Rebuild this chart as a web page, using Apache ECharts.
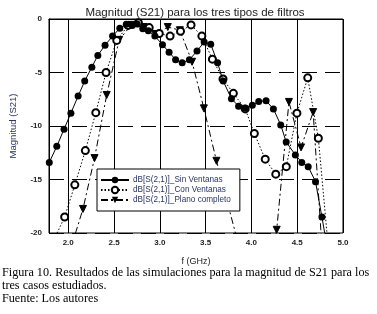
<!DOCTYPE html>
<html><head><meta charset="utf-8">
<script src="https://cdn.jsdelivr.net/npm/echarts@6/dist/echarts.min.js"></script>
<style>html,body{margin:0;padding:0;background:#fff}#c{width:377px;height:314px}</style>
</head><body><div id="c"></div>
<script>
const title = 'Magnitud (S21) para los tres tipos de filtros';
const xName = 'f (GHz)';
const yName = 'Magnitud (S21)';
const xTicks = [2.0, 2.5, 3.0, 3.5, 4.0, 4.5, 5.0];
const names = ['dB[S(2,1)]_Sin Ventanas', 'dB[S(2,1)]_Con Ventanas', 'dB[S(2,1)]_Plano completo'];
const caption = ['Figura 10. Resultados de las simulaciones para la magnitud de S21 para los', 'tres casos estudiados.', 'Fuente: Los autores'];

const sinF = [1.793,1.875,1.954,2.029,2.108,2.18,2.258,2.323,2.402,2.484,2.563,2.634,2.699,2.753,2.814,2.875,2.946,3.029,3.101,3.172,3.244,3.323,3.406,3.484,3.556,3.631,3.692,3.782,3.86,3.93,4.01,4.08,4.16,4.24,4.32,4.38,4.48,4.55,4.62,4.70,4.77,4.85];
const sinV = [-13.4,-11.9,-10.3,-8.8,-7.2,-5.8,-4.5,-3.4,-2.45,-1.6,-0.87,-0.5,-0.6,-0.47,-0.9,-1.1,-1.6,-2.4,-3.1,-3.8,-4.1,-3.8,-3.0,-2.15,-2.35,-4.1,-5.8,-7.45,-8.15,-8.35,-8.05,-7.7,-7.65,-8.4,-9.9,-11.5,-12.7,-13.4,-13.8,-15.2,-18.5,-22.5];

const conF = [1.846,1.961,2.072,2.187,2.301,2.413,2.53,2.653,2.766,2.884,2.994,3.112,3.226,3.341,3.459,3.574,3.69,3.803,3.932,4.032,4.151,4.266,4.381,4.497,4.615,4.731,4.846];
const conV = [-20.6,-18.5,-15.5,-12.3,-8.75,-5.0,-2.0,-0.6,-0.35,-0.8,-1.35,-1.6,-1.15,-0.55,-1.6,-3.75,-5.6,-6.95,-8.4,-10.7,-13.1,-14.5,-13.8,-8.8,-5.5,-11.15,-22];

const planoF = [2.029,2.161,2.287,2.42,2.556,2.69,2.823,2.954,3.087,3.219,3.352,3.481,3.618,3.881,4.145,4.276,4.41,4.542,4.674,4.806];
const planoV = [-21.4,-17.75,-13.0,-7.1,-1.95,-0.55,-0.75,-1.4,-0.75,-1.05,-4.0,-8.35,-13.25,-21.8,-26,-19.7,-7.75,-12.0,-8.7,-26];

const zip = (a, b) => a.map((x, i) => [x, b[i]]);
const chart = echarts.init(document.getElementById('c'), null, {renderer: 'canvas'});
const txt = '#2a3560';
chart.setOption({
  animation: false,
  backgroundColor: '#fff',
  title: {text: title, left: 190, textAlign: 'center', top: 2,
    textStyle: {fontFamily: 'Liberation Sans, Arial', fontSize: 11.5, fontWeight: 'normal', color: '#222'}},
  grid: {left: 45, right: 34, top: 19, bottom: 81, show: true, borderColor: '#000', borderWidth: 1, backgroundColor: '#fff'},
  legend: {
    orient: 'vertical', left: 97, top: 169,
    backgroundColor: '#fff', borderColor: '#000', borderWidth: 1,
    padding: [6, 9, 6, 3], itemGap: 0, itemWidth: 28, itemHeight: 8,
    textStyle: {fontFamily: 'Liberation Sans, Arial', fontSize: 8.2, color: txt, lineHeight: 10, padding: [0, 0, 0, -1]},
    data: names
  },
  xAxis: {
    type: 'value', min: 1.79, max: 5.0,
    name: xName, nameLocation: 'middle', nameGap: 24,
    nameTextStyle: {fontFamily: 'Liberation Sans, Arial', fontSize: 9, color: '#222'},
    axisLine: {show: true, lineStyle: {color: '#000', width: 1}},
    axisTick: {show: false, customValues: xTicks},
    axisLabel: {customValues: xTicks, formatter: v => v.toFixed(1), margin: 6,
      fontFamily: 'Liberation Sans, Arial', fontSize: 8, fontWeight: 'bold', color: '#222'},
    splitLine: {show: true, lineStyle: {color: '#000', width: 1}}
  },
  yAxis: {
    type: 'value', min: -20, max: 0, interval: 5,
    name: yName, nameLocation: 'middle', nameGap: 31,
    nameTextStyle: {fontFamily: 'Liberation Sans, Arial', fontSize: 9.5, color: txt},
    axisLine: {show: true, lineStyle: {color: '#000', width: 1}},
    axisTick: {show: false},
    axisLabel: {margin: 7, fontFamily: 'Liberation Sans, Arial', fontSize: 8, fontWeight: 'bold', color: '#222'},
    splitLine: {show: true, lineStyle: {color: '#000', width: 1, type: [15, 8]}}
  },
  series: [
    {name: names[0], type: 'line', data: zip(sinF, sinV), symbol: 'circle', symbolSize: 7,
      lineStyle: {color: '#000', width: 1, type: 'solid'}, itemStyle: {color: '#000', borderColor: '#000', borderWidth: 0}, z: 4},
    {name: names[1], type: 'line', data: zip(conF, conV), symbol: 'emptyCircle', symbolSize: 7,
      lineStyle: {color: '#000', width: 1, type: [1.5, 2]}, itemStyle: {color: '#000', borderColor: '#000', borderWidth: 0.8}, z: 3},
    {name: names[2], type: 'line', data: zip(planoF, planoV), symbol: 'triangle', symbolRotate: 180, symbolSize: 7,
      lineStyle: {color: '#000', width: 1, type: [7, 3, 2, 3]}, itemStyle: {color: '#000', borderColor: '#000'}, z: 2}
  ],
  graphic: caption.map((t, i) => ({
    type: 'text', left: 2, top: 267 + i * 13,
    style: {text: t, font: '12.2px "Liberation Serif", "Times New Roman", serif', fill: '#000'}
  }))
});
</script></body></html>
